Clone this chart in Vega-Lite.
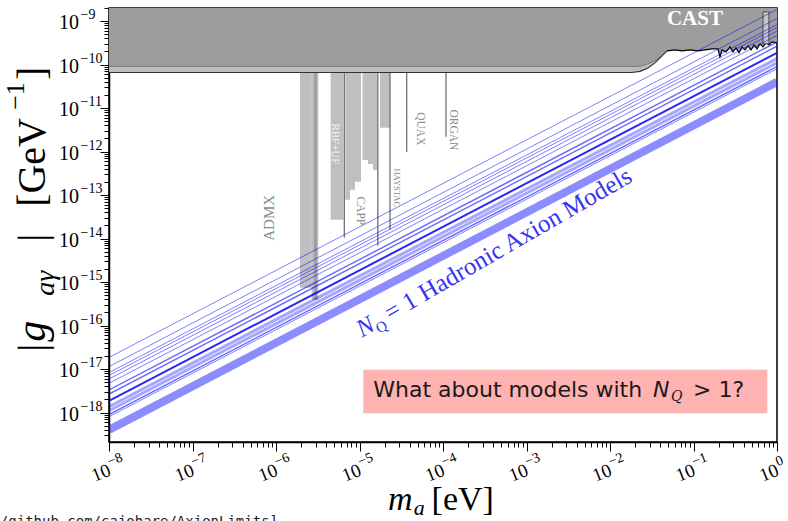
{
  "$schema": "https://vega.github.io/schema/vega-lite/v6.json",
  "autosize": {"type": "none"},
  "width": 668,
  "height": 434,
  "padding": {"left": 109, "top": 8, "right": 11, "bottom": 79},
  "background": "white",
  "config": {
    "view": {"stroke": "black", "strokeWidth": 1.5},
    "axis": {"grid": false, "domainColor": "black", "domainWidth": 1.5, "tickColor": "black", "labelColor": "black"},
    "text": {"font": "Liberation Serif", "color": "black"}
  },
  "datasets": {
    "models": [
      {"model": "a1", "grp": "thin", "m": 1e-8, "g": 1.85e-17}, {"model": "a1", "grp": "thin", "m": 1, "g": 1.85e-9},
      {"model": "a2", "grp": "thin", "m": 1e-8, "g": 1.14e-17}, {"model": "a2", "grp": "thin", "m": 1, "g": 1.14e-9},
      {"model": "a3", "grp": "thin", "m": 1e-8, "g": 8.3e-18}, {"model": "a3", "grp": "thin", "m": 1, "g": 8.3e-10},
      {"model": "a4", "grp": "thin", "m": 1e-8, "g": 7.1e-18}, {"model": "a4", "grp": "thin", "m": 1, "g": 7.1e-10},
      {"model": "a5", "grp": "thin", "m": 1e-8, "g": 5.9e-18}, {"model": "a5", "grp": "thin", "m": 1, "g": 5.9e-10},
      {"model": "a6", "grp": "thin", "m": 1e-8, "g": 4.7e-18}, {"model": "a6", "grp": "thin", "m": 1, "g": 4.7e-10},
      {"model": "b1", "grp": "mid", "m": 1e-8, "g": 3.3e-18}, {"model": "b1", "grp": "mid", "m": 1, "g": 3.3e-10},
      {"model": "b2", "grp": "mid", "m": 1e-8, "g": 2.65e-18}, {"model": "b2", "grp": "mid", "m": 1, "g": 2.65e-10},
      {"model": "c1", "grp": "main", "m": 1e-8, "g": 1.86e-18}, {"model": "c1", "grp": "main", "m": 1, "g": 1.86e-10},
      {"model": "b3", "grp": "wide", "m": 1e-8, "g": 1.37e-18}, {"model": "b3", "grp": "wide", "m": 1, "g": 1.37e-10},
      {"model": "b4", "grp": "wide", "m": 1e-8, "g": 1.1e-18}, {"model": "b4", "grp": "wide", "m": 1, "g": 1.1e-10},
      {"model": "b5", "grp": "mid", "m": 1e-8, "g": 9.0e-19}, {"model": "b5", "grp": "mid", "m": 1, "g": 9.0e-11},
      {"model": "b6", "grp": "thin", "m": 1e-8, "g": 8.0e-19}, {"model": "b6", "grp": "thin", "m": 1, "g": 8.0e-11},
      {"model": "d1", "grp": "band", "m": 1e-8, "g": 4.0e-19}, {"model": "d1", "grp": "band", "m": 1, "g": 4.0e-11}
    ],
    "cast_light": [
      {"m": 1e-8, "g": 6.6e-11},
      {"m": 0.01832, "g": 6.6e-11},
      {"m": 0.02286, "g": 6.98e-11},
      {"m": 0.02851, "g": 8.39e-11},
      {"m": 0.03459, "g": 1.094e-10},
      {"m": 0.04083, "g": 1.503e-10},
      {"m": 0.04819, "g": 2.07e-10}
    ],
    "cast_dark": [
      {"m": 1e-8, "g": 9.1e-11},
      {"m": 0.02286, "g": 9.1e-11},
      {"m": 0.02851, "g": 1.04e-10},
      {"m": 0.03459, "g": 1.22e-10},
      {"m": 0.04083, "g": 1.55e-10},
      {"m": 0.04819, "g": 2.07e-10}
    ],
    "cast_edge": [
      {"m": 0.04819, "g": 2.07e-10},
      {"m": 0.05998, "g": 2.18e-10},
      {"m": 0.07278, "g": 2.07e-10},
      {"m": 0.09078, "g": 2.18e-10},
      {"m": 0.1132, "g": 2.07e-10},
      {"m": 0.1374, "g": 2.18e-10},
      {"m": 0.1667, "g": 2.30e-10},
      {"m": 0.1963, "g": 2.30e-10},
      {"m": 0.2075, "g": 1.50e-10},
      {"m": 0.2193, "g": 2.18e-10},
      {"m": 0.2449, "g": 1.96e-10},
      {"m": 0.2735, "g": 2.55e-10},
      {"m": 0.2972, "g": 1.96e-10},
      {"m": 0.3228, "g": 2.42e-10},
      {"m": 0.3508, "g": 1.86e-10},
      {"m": 0.3811, "g": 2.55e-10},
      {"m": 0.4140, "g": 2.18e-10},
      {"m": 0.4498, "g": 2.69e-10},
      {"m": 0.4887, "g": 2.18e-10},
      {"m": 0.5309, "g": 2.84e-10},
      {"m": 0.5754, "g": 2.30e-10},
      {"m": 0.6252, "g": 2.99e-10},
      {"m": 0.6792, "g": 2.55e-10},
      {"m": 0.7379, "g": 3.16e-10},
      {"m": 0.8017, "g": 2.84e-10},
      {"m": 0.8710, "g": 3.33e-10},
      {"m": 1.0, "g": 3.16e-10}
    ],
    "xticks": [
      {"m": 1e-8, "e": "−8"}, {"m": 1e-7, "e": "−7"}, {"m": 1e-6, "e": "−6"}, {"m": 1e-5, "e": "−5"},
      {"m": 1e-4, "e": "−4"}, {"m": 1e-3, "e": "−3"}, {"m": 1e-2, "e": "−2"}, {"m": 1e-1, "e": "−1"}, {"m": 1, "e": "0"}
    ],
    "yticks": [
      {"g": 1e-9, "e": "−9"}, {"g": 1e-10, "e": "−10"}, {"g": 1e-11, "e": "−11"}, {"g": 1e-12, "e": "−12"},
      {"g": 1e-13, "e": "−13"}, {"g": 1e-14, "e": "−14"}, {"g": 1e-15, "e": "−15"}, {"g": 1e-16, "e": "−16"},
      {"g": 1e-17, "e": "−17"}, {"g": 1e-18, "e": "−18"}
    ]
  },
  "layer": [
    {
      "data": {"values": [
        {"m": 1.936e-6, "m2": 2.677e-6, "g": 7.36e-16},
        {"m": 2.677e-6, "m2": 3.21e-6, "g": 3.90e-16},
        {"m": 2.85e-6, "m2": 3.1e-6, "g": 3.90e-16},
        {"m": 4.52e-6, "m2": 6.40e-6, "g": 2.69e-14},
        {"m": 6.76e-6, "m2": 7.69e-6, "g": 7.76e-14},
        {"m": 7.69e-6, "m2": 8.83e-6, "g": 1.318e-13},
        {"m": 8.83e-6, "m2": 1.042e-5, "g": 2.01e-13},
        {"m": 1.086e-5, "m2": 1.264e-5, "g": 6.44e-13},
        {"m": 1.264e-5, "m2": 1.452e-5, "g": 5.21e-13},
        {"m": 1.452e-5, "m2": 1.622e-5, "g": 3.79e-13},
        {"m": 1.761e-5, "m2": 2.319e-5, "g": 3.51e-12}
      ]},
      "mark": {"type": "rect", "color": "#808080", "opacity": 0.5, "clip": true},
      "encoding": {
        "x": {
          "field": "m", "type": "quantitative",
          "scale": {"type": "log", "domain": [1e-8, 1], "nice": false},
          "axis": {
            "title": null, "tickCount": 60, "labels": false, "tickWidth": 1,
            "tickSize": {"condition": {"test": "abs(log(datum.value)/LN10 - round(log(datum.value)/LN10)) < 0.001", "value": 9}, "value": 5}
          }
        },
        "x2": {"field": "m2"},
        "y": {
          "field": "g", "type": "quantitative",
          "scale": {"type": "log", "domain": [2.1e-19, 2e-9], "nice": false},
          "axis": {
            "title": null, "tickCount": 60, "labels": false, "tickWidth": 1,
            "tickSize": {"condition": {"test": "abs(log(datum.value)/LN10 - round(log(datum.value)/LN10)) < 0.001", "value": 9}, "value": 5}
          }
        },
        "y2": {"datum": 2e-9}
      }
    },
    {
      "data": {"values": [
        {"m": 6.58e-6, "g": 1.04e-14},
        {"m": 1.657e-5, "g": 6.79e-15},
        {"m": 2.32e-5, "g": 1.585e-14},
        {"m": 3.67e-5, "g": 9.84e-13},
        {"m": 1.087e-4, "g": 2.18e-12}
      ]},
      "mark": {"type": "rule", "color": "#707070", "strokeWidth": 1.3, "clip": true},
      "encoding": {
        "x": {"field": "m", "type": "quantitative"},
        "y": {"field": "g", "type": "quantitative"},
        "y2": {"datum": 2e-9}
      }
    },
    {
      "data": {"name": "cast_light"},
      "mark": {"type": "area", "color": "#bcbcbc", "clip": true},
      "encoding": {
        "x": {"field": "m", "type": "quantitative"},
        "y": {"field": "g", "type": "quantitative"},
        "y2": {"datum": 2e-9}
      }
    },
    {
      "data": {"name": "cast_edge"},
      "mark": {"type": "area", "color": "#9d9d9d", "clip": true},
      "encoding": {
        "x": {"field": "m", "type": "quantitative"},
        "y": {"field": "g", "type": "quantitative"},
        "y2": {"datum": 2e-9}
      }
    },
    {
      "data": {"name": "cast_dark"},
      "mark": {"type": "area", "color": "#9d9d9d", "clip": true},
      "encoding": {
        "x": {"field": "m", "type": "quantitative"},
        "y": {"field": "g", "type": "quantitative"},
        "y2": {"datum": 2e-9}
      }
    },
    {
      "data": {"name": "cast_dark"},
      "mark": {"type": "line", "color": "#6a6a6a", "strokeWidth": 0.8, "clip": true},
      "encoding": {
        "x": {"field": "m", "type": "quantitative"},
        "y": {"field": "g", "type": "quantitative"}
      }
    },
    {
      "data": {"name": "cast_light"},
      "mark": {"type": "line", "color": "#333333", "strokeWidth": 1.1, "clip": true},
      "encoding": {
        "x": {"field": "m", "type": "quantitative"},
        "y": {"field": "g", "type": "quantitative"}
      }
    },
    {
      "data": {"name": "cast_edge"},
      "mark": {"type": "line", "color": "black", "strokeWidth": 1.2, "clip": true},
      "encoding": {
        "x": {"field": "m", "type": "quantitative"},
        "y": {"field": "g", "type": "quantitative"}
      }
    },
    {
      "data": {"values": [{"m": 0.68, "m2": 0.80, "g": 3.0e-10, "g2": 1.63e-9}]},
      "mark": {"type": "rect", "color": "#c4c4c4", "stroke": "#333333", "strokeWidth": 0.8, "clip": true},
      "encoding": {
        "x": {"field": "m", "type": "quantitative"},
        "x2": {"field": "m2"},
        "y": {"field": "g", "type": "quantitative"},
        "y2": {"field": "g2"}
      }
    },
    {
      "data": {"name": "models"},
      "transform": [{"filter": "datum.grp == 'thin'"}],
      "mark": {"type": "line", "color": "#0000ff", "strokeWidth": 1, "opacity": 0.5, "clip": true},
      "encoding": {
        "x": {"field": "m", "type": "quantitative"},
        "y": {"field": "g", "type": "quantitative"},
        "detail": {"field": "model", "type": "nominal"}
      }
    },
    {
      "data": {"name": "models"},
      "transform": [{"filter": "datum.grp == 'mid'"}],
      "mark": {"type": "line", "color": "#0000ff", "strokeWidth": 1.4, "opacity": 0.6, "clip": true},
      "encoding": {
        "x": {"field": "m", "type": "quantitative"},
        "y": {"field": "g", "type": "quantitative"},
        "detail": {"field": "model", "type": "nominal"}
      }
    },
    {
      "data": {"name": "models"},
      "transform": [{"filter": "datum.grp == 'wide'"}],
      "mark": {"type": "line", "color": "#0000ff", "strokeWidth": 3, "opacity": 0.35, "clip": true},
      "encoding": {
        "x": {"field": "m", "type": "quantitative"},
        "y": {"field": "g", "type": "quantitative"},
        "detail": {"field": "model", "type": "nominal"}
      }
    },
    {
      "data": {"name": "models"},
      "transform": [{"filter": "datum.grp == 'band'"}],
      "mark": {"type": "line", "color": "#0000ff", "strokeWidth": 8, "opacity": 0.45, "clip": true},
      "encoding": {
        "x": {"field": "m", "type": "quantitative"},
        "y": {"field": "g", "type": "quantitative"},
        "detail": {"field": "model", "type": "nominal"}
      }
    },
    {
      "data": {"name": "models"},
      "transform": [{"filter": "datum.grp == 'main'"}],
      "mark": {"type": "line", "color": "#0000ff", "strokeWidth": 2, "opacity": 0.85, "clip": true},
      "encoding": {
        "x": {"field": "m", "type": "quantitative"},
        "y": {"field": "g", "type": "quantitative"},
        "detail": {"field": "model", "type": "nominal"}
      }
    },
    {
      "data": {"values": [{"m": 8.24e-7, "g": 2.99e-14, "label": "ADMX"}]},
      "mark": {"type": "text", "angle": 270, "fontSize": 15, "color": "#8a8a8a", "align": "center", "baseline": "middle"},
      "encoding": {
        "x": {"field": "m", "type": "quantitative"},
        "y": {"field": "g", "type": "quantitative"},
        "text": {"field": "label"}
      }
    },
    {
      "data": {"values": [{"m": 5.09e-6, "g": 1.50e-12, "label": "RBF+UF"}]},
      "mark": {"type": "text", "angle": 90, "fontSize": 11, "color": "#f4f4f4", "align": "center", "baseline": "middle"},
      "encoding": {
        "x": {"field": "m", "type": "quantitative"},
        "y": {"field": "g", "type": "quantitative"},
        "text": {"field": "label"}
      }
    },
    {
      "data": {"values": [
        {"m": 1.01e-5, "g": 4.34e-14, "label": "CAPP"},
        {"m": 5.31e-5, "g": 3.33e-12, "label": "QUAX"},
        {"m": 1.32e-4, "g": 3.15e-12, "label": "ORGAN"}
      ]},
      "mark": {"type": "text", "angle": 90, "fontSize": 11.5, "color": "#8a8a8a", "align": "center", "baseline": "middle"},
      "encoding": {
        "x": {"field": "m", "type": "quantitative"},
        "y": {"field": "g", "type": "quantitative"},
        "text": {"field": "label"}
      }
    },
    {
      "data": {"values": [{"m": 2.81e-5, "g": 1.47e-13, "label": "HAYSTAC"}]},
      "mark": {"type": "text", "angle": 90, "fontSize": 8.5, "color": "#8a8a8a", "align": "center", "baseline": "middle"},
      "encoding": {
        "x": {"field": "m", "type": "quantitative"},
        "y": {"field": "g", "type": "quantitative"},
        "text": {"field": "label"}
      }
    },
    {
      "data": {"values": [{"m": 0.104, "g": 1.12e-9, "label": "CAST"}]},
      "mark": {"type": "text", "fontSize": 21, "fontWeight": "bold", "color": "white", "align": "center", "baseline": "middle"},
      "encoding": {
        "x": {"field": "m", "type": "quantitative"},
        "y": {"field": "g", "type": "quantitative"},
        "text": {"field": "label"}
      }
    },
    {
      "data": {"values": [{"m": 1.072e-5, "g": 5.21e-17}]},
      "layer": [
        {
          "mark": {"type": "text", "angle": 330, "fontSize": 25, "fontStyle": "italic", "color": "#3434f2", "align": "left", "baseline": "alphabetic", "text": "N"},
          "encoding": {"x": {"field": "m", "type": "quantitative"}, "y": {"field": "g", "type": "quantitative"}}
        },
        {
          "mark": {"type": "text", "angle": 330, "fontSize": 15, "color": "#3434f2", "align": "left", "baseline": "alphabetic", "text": "Q", "dx": 17, "dy": 5},
          "encoding": {"x": {"field": "m", "type": "quantitative"}, "y": {"field": "g", "type": "quantitative"}}
        },
        {
          "mark": {"type": "text", "angle": 330, "fontSize": 25, "color": "#3434f2", "align": "left", "baseline": "alphabetic", "text": "= 1 Hadronic Axion Models", "dx": 33},
          "encoding": {"x": {"field": "m", "type": "quantitative"}, "y": {"field": "g", "type": "quantitative"}}
        }
      ]
    },
    {
      "data": {"values": [{"m": 1.109e-5, "m2": 0.766, "g": 9.68e-19, "g2": 9.59e-18}]},
      "mark": {"type": "rect", "color": "#ffb2b2"},
      "encoding": {
        "x": {"field": "m", "type": "quantitative"},
        "x2": {"field": "m2"},
        "y": {"field": "g", "type": "quantitative"},
        "y2": {"field": "g2"}
      }
    },
    {
      "data": {"values": [
        {"m": 1.462e-5, "g": 2.33e-18, "piece": "What about models with"},
        {"m": 0.0986, "g": 2.33e-18, "piece": "> 1?"}
      ]},
      "mark": {"type": "text", "font": "DejaVu Sans", "fontSize": 22, "color": "#1a1a1a", "align": "left", "baseline": "alphabetic"},
      "encoding": {
        "x": {"field": "m", "type": "quantitative"},
        "y": {"field": "g", "type": "quantitative"},
        "text": {"field": "piece"}
      }
    },
    {
      "data": {"values": [{"m": 0.0327, "g": 2.33e-18, "piece": "N"}]},
      "mark": {"type": "text", "font": "DejaVu Sans", "fontSize": 22, "fontStyle": "italic", "color": "#1a1a1a", "align": "left", "baseline": "alphabetic"},
      "encoding": {
        "x": {"field": "m", "type": "quantitative"},
        "y": {"field": "g", "type": "quantitative"},
        "text": {"field": "piece"}
      }
    },
    {
      "data": {"values": [{"m": 0.0538, "g": 1.86e-18, "piece": "Q"}]},
      "mark": {"type": "text", "font": "DejaVu Serif", "fontSize": 14, "fontStyle": "italic", "color": "#1a1a1a", "align": "left", "baseline": "alphabetic"},
      "encoding": {
        "x": {"field": "m", "type": "quantitative"},
        "y": {"field": "g", "type": "quantitative"},
        "text": {"field": "piece"}
      }
    },
    {
      "data": {"values": [{"m": 1.057e-6, "g": 2.48e-21, "piece": "[https://github.com/cajohare/AxionLimits]"}]},
      "mark": {"type": "text", "font": "DejaVu Sans Mono", "fontSize": 14, "color": "#222222", "align": "right", "baseline": "alphabetic"},
      "encoding": {
        "x": {"field": "m", "type": "quantitative"},
        "y": {"field": "g", "type": "quantitative"},
        "text": {"field": "piece"}
      }
    },
    {
      "data": {"name": "xticks"},
      "layer": [
        {
          "mark": {"type": "text", "text": "10", "angle": 338, "fontSize": 19, "align": "right", "baseline": "middle", "dx": 1},
          "encoding": {
            "x": {"field": "m", "type": "quantitative"},
            "y": {"datum": 4.82e-20}
          }
        },
        {
          "mark": {"type": "text", "angle": 338, "fontSize": 14, "align": "left", "baseline": "middle", "dx": 2, "dy": -7},
          "encoding": {
            "x": {"field": "m", "type": "quantitative"},
            "y": {"datum": 4.82e-20},
            "text": {"field": "e"}
          }
        }
      ]
    },
    {
      "data": {"name": "yticks"},
      "layer": [
        {
          "mark": {"type": "text", "text": "10", "fontSize": 20, "align": "right", "baseline": "middle", "dy": 2},
          "encoding": {
            "x": {"datum": 4.38e-9},
            "y": {"field": "g", "type": "quantitative"}
          }
        },
        {
          "mark": {"type": "text", "fontSize": 14, "align": "left", "baseline": "middle", "dx": 1.5, "dy": -6},
          "encoding": {
            "x": {"datum": 4.38e-9},
            "y": {"field": "g", "type": "quantitative"},
            "text": {"field": "e"}
          }
        }
      ]
    },
    {
      "data": {"values": [{"m": 2.19e-5, "g": 5.79e-21, "piece": "m"}]},
      "mark": {"type": "text", "fontSize": 34, "fontStyle": "italic", "align": "left", "baseline": "alphabetic"},
      "encoding": {
        "x": {"field": "m", "type": "quantitative"},
        "y": {"field": "g", "type": "quantitative"},
        "text": {"field": "piece"}
      }
    },
    {
      "data": {"values": [{"m": 4.45e-5, "g": 4.45e-21, "piece": "a"}]},
      "mark": {"type": "text", "fontSize": 22, "fontStyle": "italic", "align": "left", "baseline": "alphabetic"},
      "encoding": {
        "x": {"field": "m", "type": "quantitative"},
        "y": {"field": "g", "type": "quantitative"},
        "text": {"field": "piece"}
      }
    },
    {
      "data": {"values": [{"m": 7.3e-5, "g": 5.79e-21, "piece": "[eV]"}]},
      "mark": {"type": "text", "fontSize": 34, "align": "left", "baseline": "alphabetic"},
      "encoding": {
        "x": {"field": "m", "type": "quantitative"},
        "y": {"field": "g", "type": "quantitative"},
        "text": {"field": "piece"}
      }
    },
    {
      "data": {"values": [
        {"m": 1.714e-9, "g": 2.48e-17, "piece": "|"},
        {"m": 1.714e-9, "g": 8.39e-15, "piece": "|"},
        {"m": 1.714e-9, "g": 5.36e-14, "piece": "[GeV"},
        {"m": 1.714e-9, "g": 4.45e-11, "piece": "]"}
      ]},
      "mark": {"type": "text", "angle": 270, "fontSize": 40, "align": "left", "baseline": "alphabetic"},
      "encoding": {
        "x": {"field": "m", "type": "quantitative"},
        "y": {"field": "g", "type": "quantitative"},
        "text": {"field": "piece"}
      }
    },
    {
      "data": {"values": [{"m": 1.714e-9, "g": 4.22e-17, "piece": "g"}]},
      "mark": {"type": "text", "angle": 270, "fontSize": 42, "fontStyle": "italic", "align": "left", "baseline": "alphabetic"},
      "encoding": {
        "x": {"field": "m", "type": "quantitative"},
        "y": {"field": "g", "type": "quantitative"},
        "text": {"field": "piece"}
      }
    },
    {
      "data": {"values": [{"m": 2.19e-9, "g": 4.82e-16, "piece": "aγ"}]},
      "mark": {"type": "text", "angle": 270, "fontSize": 28, "fontStyle": "italic", "align": "left", "baseline": "alphabetic"},
      "encoding": {
        "x": {"field": "m", "type": "quantitative"},
        "y": {"field": "g", "type": "quantitative"},
        "text": {"field": "piece"}
      }
    },
    {
      "data": {"values": [{"m": 9.6e-10, "g": 9.1e-12, "piece": "−1"}]},
      "mark": {"type": "text", "angle": 270, "fontSize": 26, "align": "left", "baseline": "alphabetic"},
      "encoding": {
        "x": {"field": "m", "type": "quantitative"},
        "y": {"field": "g", "type": "quantitative"},
        "text": {"field": "piece"}
      }
    }
  ]
}
